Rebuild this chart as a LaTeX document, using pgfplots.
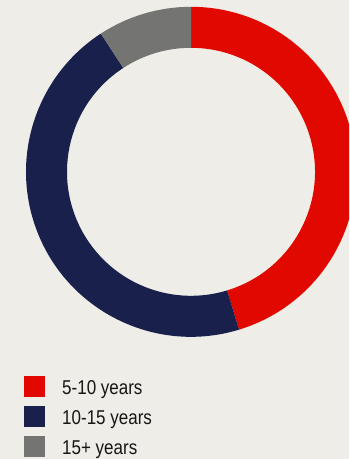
\documentclass[border=0pt]{standalone}
\usepackage{pgfplots}
\pgfplotsset{compat=1.18}
\usepackage{pgfplotstable}
\usepackage{fontspec}
\setmainfont{Liberation Sans}[FakeStretch=0.85]
\definecolor{bg}{RGB}{238,237,231}
\definecolor{cred}{RGB}{225,8,0}
\definecolor{cnavy}{RGB}{24,32,75}
\definecolor{cgray}{RGB}{116,116,114}
\definecolor{ctext}{RGB}{22,22,22}
\pgfplotstableread{
label value
5-10 45.3
10-15 45.5
15+ 9.2
}\donutdata
\begin{document}
\begin{tikzpicture}
\pgfplotstablegetelem{0}{value}\of\donutdata \let\va\pgfplotsretval
\pgfplotstablegetelem{1}{value}\of\donutdata \let\vb\pgfplotsretval
\pgfplotstablegetelem{2}{value}\of\donutdata \let\vc\pgfplotsretval
\pgfmathsetmacro{\tot}{\va+\vb+\vc}
\pgfmathsetmacro{\aA}{90}
\pgfmathsetmacro{\aB}{90-(\va/\tot)*360}
\pgfmathsetmacro{\aC}{90-((\va+\vb)/\tot)*360}
\pgfmathsetmacro{\aD}{-270}
\def\Ro{165pt}\def\Ri{124pt}
\begin{axis}[
  scale only axis, width=349pt, height=459pt,
  xmin=0, xmax=349, ymin=0, ymax=459,
  axis lines=none, ticks=none,
  axis background/.style={fill=bg},
  clip=true,
  legend image code/.code={\path[#1] (0pt,-7.4pt) rectangle (21pt,13.3pt); \path (38pt,0pt);},
  legend cell align=left,
  legend style={at={(axis cs:24,83)}, anchor=north west, draw=none, fill=none,
    inner sep=0pt, row sep=7.7pt,
    nodes={inner sep=0pt, text=ctext, font=\fontsize{20}{20}\selectfont,
      text height=14pt, text depth=4pt}},
]
\coordinate (c) at (axis cs:191,287.2);
\coordinate (bl) at (rel axis cs:0,0);
\coordinate (tr) at (rel axis cs:1,1);
\begin{scope}
\clip (rel axis cs:0,0) rectangle (rel axis cs:1,1);
\fill[cred] ([shift={(\aA:\Ro)}]c) arc[start angle=\aA, end angle=\aB, radius=\Ro]
  -- ([shift={(\aB:\Ri)}]c) arc[start angle=\aB, end angle=\aA, radius=\Ri] -- cycle;
\fill[cnavy] ([shift={(\aB:\Ro)}]c) arc[start angle=\aB, end angle=\aC, radius=\Ro]
  -- ([shift={(\aC:\Ri)}]c) arc[start angle=\aC, end angle=\aB, radius=\Ri] -- cycle;
\fill[cgray] ([shift={(\aC:\Ro)}]c) arc[start angle=\aC, end angle=\aD, radius=\Ro]
  -- ([shift={(\aD:\Ri)}]c) arc[start angle=\aD, end angle=\aC, radius=\Ri] -- cycle;
\end{scope}
\addlegendimage{fill=cred, draw=none}
\addlegendentry{5-10 years}
\addlegendimage{fill=cnavy, draw=none}
\addlegendentry{10-15 years}
\addlegendimage{fill=cgray, draw=none}
\addlegendentry{15+ years}
\end{axis}
\pgfresetboundingbox
\useasboundingbox (bl) rectangle (tr);
\end{tikzpicture}
\end{document}
